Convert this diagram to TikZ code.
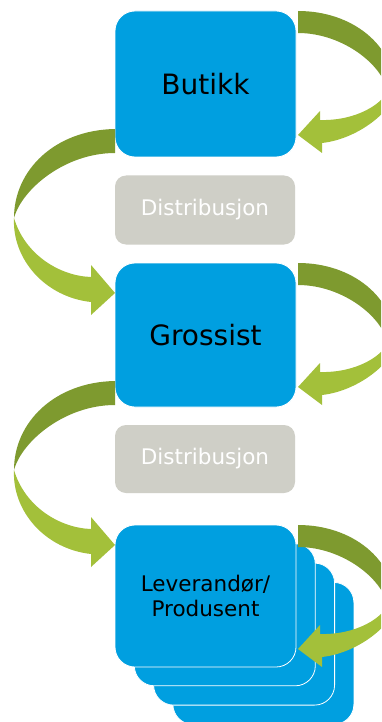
\documentclass[tikz,border=0pt]{standalone}
\usepackage{fontspec}
\setmainfont{DejaVu Sans}
\definecolor{boxblue}{HTML}{009FE0}
\definecolor{distgray}{HTML}{CFCFC7}
\definecolor{dkgreen}{HTML}{7E9A2F}
\definecolor{ltgreen}{HTML}{A3C03A}
\tikzset{
  bluebox/.style={rectangle, rounded corners=20pt, fill=boxblue, draw=white, line width=0.8pt,
    minimum width=181pt, minimum height=145pt, inner sep=0pt, outer sep=0pt, text=black},
  distbox/.style={rectangle, rounded corners=11pt, fill=distgray, draw=none,
    minimum width=180pt, minimum height=69pt, inner sep=0pt, outer sep=0pt, text=white,
    font=\fontsize{21.5}{26}\selectfont},
  rarrow/.pic={
    \fill[ltgreen] (95,70) .. controls (88,95) and (55,110) .. (22,109) -- (22,100) -- (0,124)
      -- (24,142) -- (24,132) .. controls (60,128) and (95,100) .. (99,78) -- cycle;
    \fill[dkgreen] (0,0) .. controls (55,0) and (97,35) .. (97,80) -- (91,86)
      .. controls (88,55) and (45,22) .. (0,22) -- cycle;
  },
  larrow/.pic={
    \fill[ltgreen] (-101,89) .. controls (-90,126) and (-55,147) .. (-24,148) -- (-24,136) -- (0,164)
      -- (-24,186) -- (-24,173) .. controls (-70,168) and (-103,130) .. (-101,89) -- cycle;
    \fill[dkgreen] (0,0) .. controls (-60,1) and (-101,41) .. (-101,89)
      .. controls (-93,60) and (-50,24) .. (0,24) -- cycle;
  },
}
\begin{document}
\begin{tikzpicture}[x=1pt,y=-1pt]
\useasboundingbox (0,0) rectangle (381,722);
\fill[white] (0,0) rectangle (381,722);
\clip (0,0) rectangle (381,722);
% boxes
\node[bluebox, minimum height=146pt, font=\fontsize{28}{34}\selectfont] (butikk) at (205.5,84) {Butikk};
\node[distbox] (dist1) at (205,210) {Distribusjon};
\node[bluebox, minimum height=144pt, font=\fontsize{28}{34}\selectfont] (grossist) at (205.5,335) {Grossist};
\node[distbox, minimum height=68pt] (dist2) at (205,459) {Distribusjon};
\node[bluebox, minimum height=142pt] (lev4) at (263.4,653.4) {};
\node[bluebox, minimum height=142pt] (lev3) at (244.1,634.1) {};
\node[bluebox, minimum height=142pt] (lev2) at (224.8,614.8) {};
\node[bluebox, minimum height=142pt, align=center, font=\fontsize{21.5}{25}\selectfont] (lev) at (205.5,596) {Leverandør/\\Produsent};
% arrows
\pic at ([xshift=2pt]butikk.north east) {rarrow};
\pic at ([xshift=2pt]grossist.north east) {rarrow};
\pic at ([xshift=2pt]lev.north east) {rarrow};
\pic at ([yshift=28pt]butikk.south west) {larrow};
\pic at ([yshift=26pt]grossist.south west) {larrow};
\end{tikzpicture}
\end{document}
